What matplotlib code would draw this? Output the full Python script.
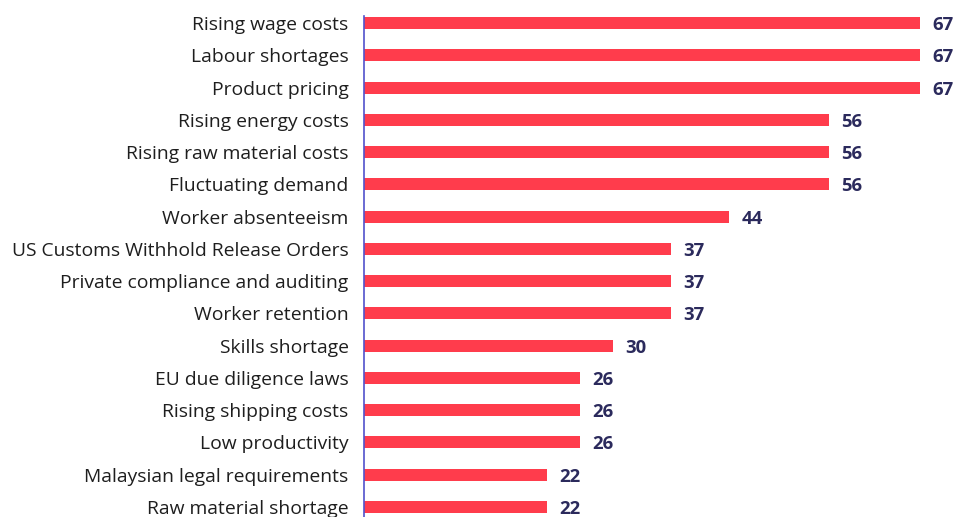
import matplotlib.pyplot as plt

categories = [
    "Rising wage costs", "Labour shortages", "Product pricing",
    "Rising energy costs", "Rising raw material costs", "Fluctuating demand",
    "Worker absenteeism", "US Customs Withhold Release Orders",
    "Private compliance and auditing", "Worker retention", "Skills shortage",
    "EU due diligence laws", "Rising shipping costs", "Low productivity",
    "Malaysian legal requirements", "Raw material shortage",
]
values = [67, 67, 67, 56, 56, 56, 44, 37, 37, 37, 30, 26, 26, 26, 22, 22]

plt.rcParams['font.family'] = ['Open Sans', 'Noto Sans', 'DejaVu Sans']

fig = plt.figure(figsize=(9.55, 5.17), dpi=100)
ax = fig.add_axes([364 / 955, 0, 1 - 364 / 955, 1 - 16 / 517])

pos = list(range(len(categories)))
ax.barh(pos, values, height=0.37, color='#FF3C4C')
for p, v in zip(pos, values):
    ax.text(v + 1.5, p, str(v), va='center_baseline', ha='left', fontsize=13.3,
            fontweight='bold', color='#2B2A5C')

ax.set_ylim(15.31, -0.217)
ax.set_xlim(0, 71.2)
ax.set_yticks(pos)
ax.set_yticklabels(categories, fontsize=13.85, color='#1E1E1E')
ax.tick_params(axis='y', length=0, pad=11)
ax.set_xticks([])
for s in ['top', 'right', 'bottom']:
    ax.spines[s].set_visible(False)
ax.spines['left'].set_color('#5252CC')
ax.spines['left'].set_linewidth(1.2)

fig.savefig('out.png', dpi=100)
